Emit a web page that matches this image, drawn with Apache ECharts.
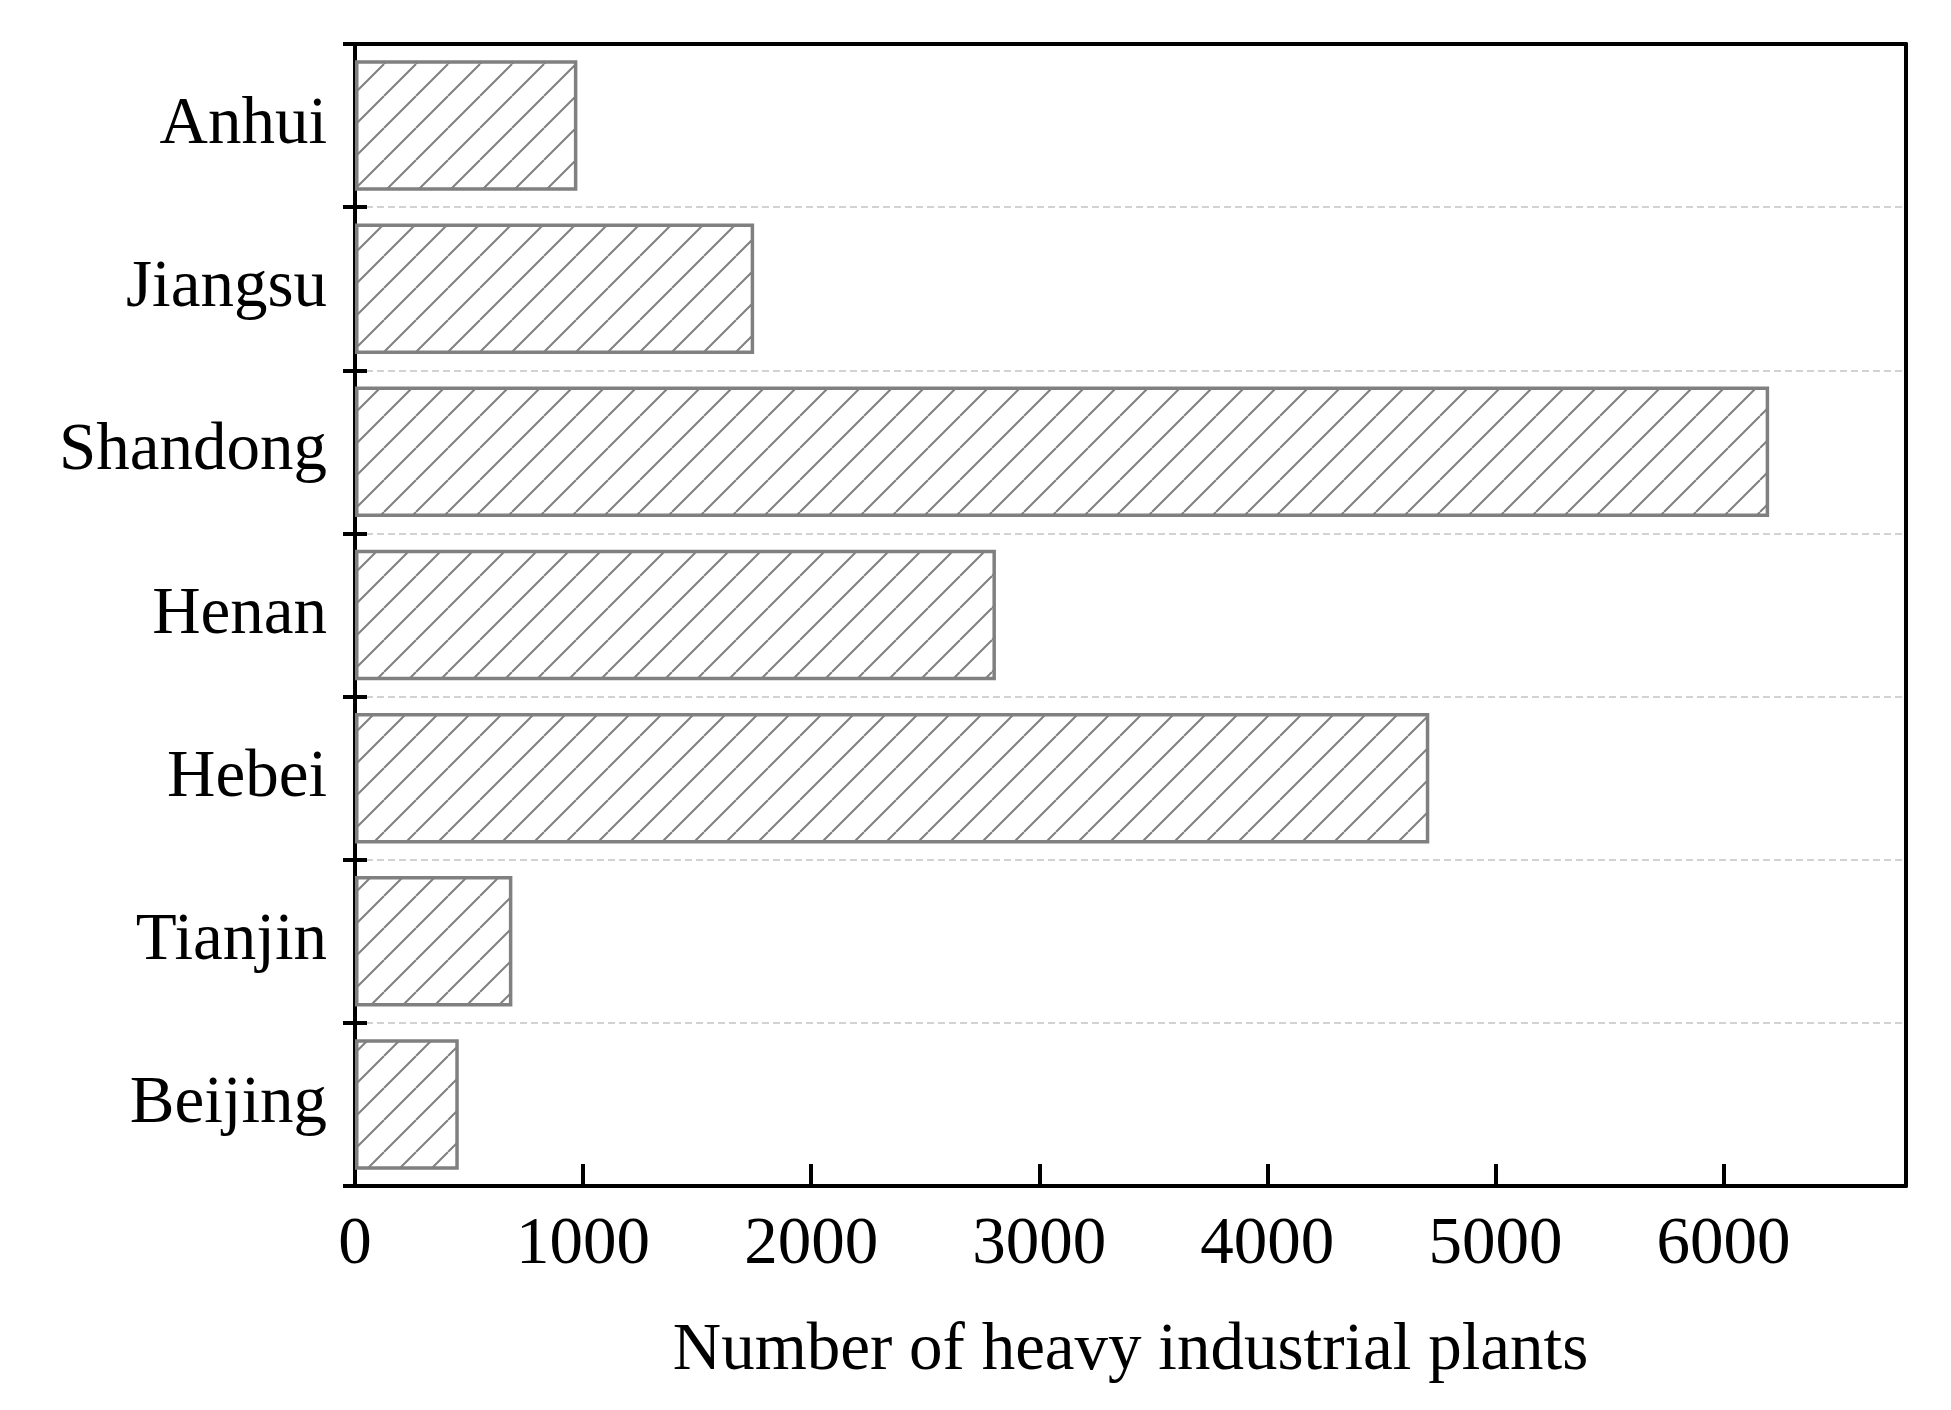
<!DOCTYPE html>
<html>
<head>
<meta charset="utf-8">
<script src="https://cdn.jsdelivr.net/npm/echarts@6/dist/echarts.min.js"></script>
<style>html,body{margin:0;padding:0;background:#fff}#c{width:1951px;height:1410px}</style>
</head>
<body>
<div id="c"></div>
<script>
const provinces = ['Beijing', 'Tianjin', 'Hebei', 'Henan', 'Shandong', 'Jiangsu', 'Anhui'];
const plants = [455, 690, 4710, 2810, 6200, 1750, 975];
const xMin = 0, xMax = 6800, xInterval = 1000;
const xTitle = 'Number of heavy industrial plants';

const FONT = 'Liberation Serif';

// diagonal hatch tile ("/" lines, 45 degrees)
function hatchTile(size, lw, color) {
  const cv = document.createElement('canvas');
  cv.width = size; cv.height = size;
  const ctx = cv.getContext('2d');
  ctx.fillStyle = '#ffffff';
  ctx.fillRect(0, 0, size, size);
  ctx.strokeStyle = color;
  ctx.lineWidth = lw;
  ctx.beginPath();
  for (let k = -1; k <= 1; k++) {
    ctx.moveTo(k * size, size);
    ctx.lineTo(k * size + size, 0);
  }
  ctx.stroke();
  return cv;
}
const tile = hatchTile(32, 2, '#808080');

const chart = echarts.init(document.getElementById('c'), null, {renderer: 'canvas'});
chart.setOption({
  animation: false,
  backgroundColor: '#fff',
  grid: {left: 355, right: 45, top: 44, bottom: 224, containLabel: false},
  xAxis: [{
    type: 'value', position: 'bottom', min: xMin, max: xMax, interval: xInterval,
    axisLine: {show: true, onZero: false, lineStyle: {color: '#000', width: 4}},
    axisTick: {show: true, inside: true, length: 22, lineStyle: {color: '#000', width: 4}},
    axisLabel: {show: true, showMaxLabel: false, margin: 26, fontFamily: FONT, fontSize: 67, color: '#000',
      formatter: v => (v % xInterval === 0 ? String(v) : '')},
    splitLine: {show: false},
    name: xTitle, nameLocation: 'middle', nameGap: 132,
    nameTextStyle: {fontFamily: FONT, fontSize: 67, color: '#000'}
  }, {
    type: 'value', position: 'top', min: xMin, max: xMax,
    axisLine: {show: true, onZero: false, lineStyle: {color: '#000', width: 4}},
    axisTick: {show: false}, axisLabel: {show: false}, splitLine: {show: false}
  }],
  yAxis: [{
    type: 'category', position: 'left', data: provinces,
    axisLine: {show: true, onZero: false, lineStyle: {color: '#000', width: 4}},
    axisTick: {show: true, inside: false, length: 12, lineStyle: {color: '#000', width: 4}},
    axisLabel: {show: true, margin: 28, fontFamily: FONT, fontSize: 67, color: '#000'},
    splitLine: {show: true, lineStyle: {color: '#c4c4c4', width: 1.5, type: [7, 4]}}
  }, {
    type: 'category', position: 'left', data: provinces,
    axisLine: {show: false},
    axisTick: {show: true, inside: true, length: 12, lineStyle: {color: '#000', width: 4}},
    axisLabel: {show: false}, splitLine: {show: false}
  }, {
    type: 'category', position: 'right', data: provinces,
    axisLine: {show: true, onZero: false, lineStyle: {color: '#000', width: 4}},
    axisTick: {show: false}, axisLabel: {show: false}, splitLine: {show: false}
  }],
  series: [{
    type: 'bar', xAxisIndex: 0, yAxisIndex: 0, data: plants,
    barCategoryGap: '20%',
    itemStyle: {
      color: {image: tile, repeat: 'repeat'},
      borderColor: '#808080', borderWidth: 3.5
    }
  }]
});
</script>
</body>
</html>
